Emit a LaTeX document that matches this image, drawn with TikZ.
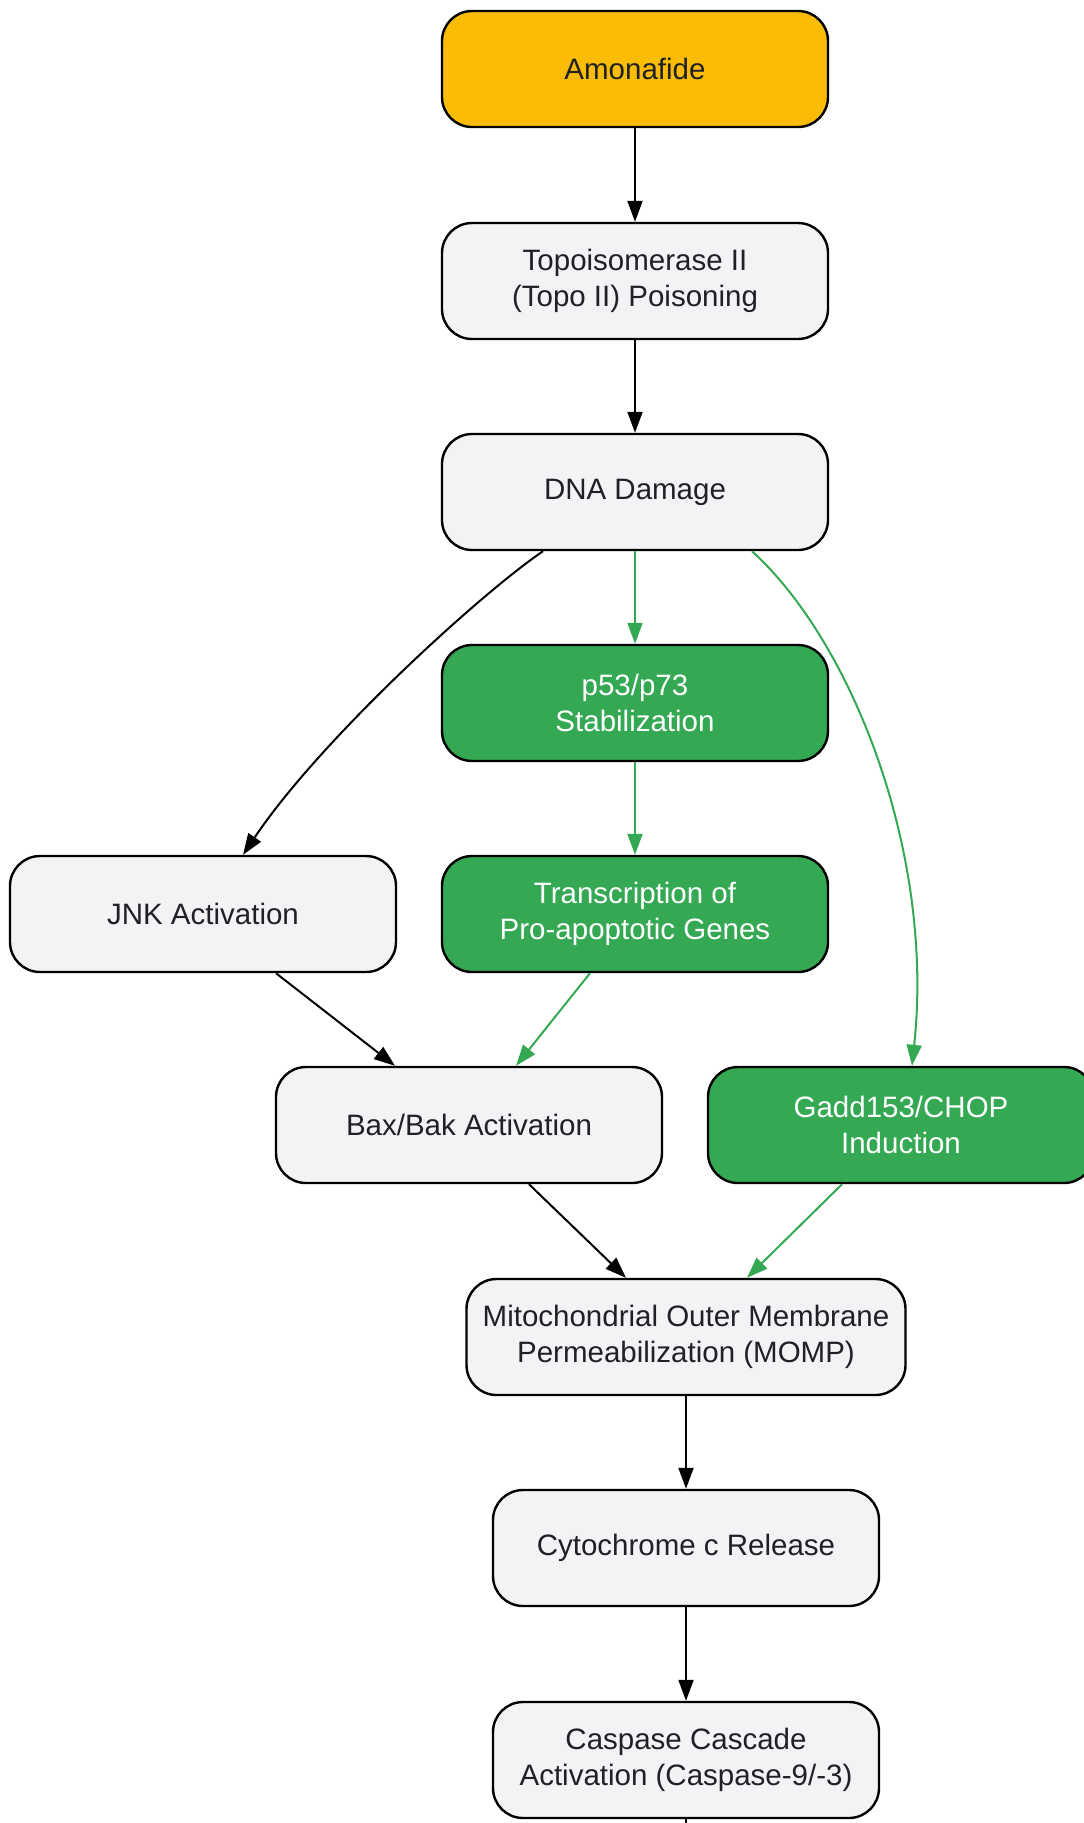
\documentclass[tikz,border=0pt]{standalone}
\usepackage{fontspec}
\setmainfont{Liberation Sans}
\usetikzlibrary{arrows.meta,calc}
\definecolor{gyellow}{HTML}{FBBC05}
\definecolor{ggreen}{HTML}{34A853}
\definecolor{ggray}{HTML}{F1F3F4}
\definecolor{gtext}{HTML}{202124}
\tikzset{
  box/.style={draw=black, line width=2.4pt, rounded corners=30pt, minimum width=386pt,
    minimum height=116pt, inner sep=0pt, align=center, text=gtext,
    font=\fontsize{29.5}{36}\selectfont},
  graybox/.style={box, fill=ggray},
  greenbox/.style={box, fill=ggreen, text=white},
  yellowbox/.style={box, fill=gyellow},
  conn/.style={line width=2pt, draw=black, -{Triangle[length=21pt,width=15pt]}},
  gconn/.style={conn, draw=ggreen},
}
\begin{document}
\begin{tikzpicture}[x=1pt,y=-1pt]
\useasboundingbox (0,0) rectangle (1084,1823);
\node[yellowbox] (amo) at (635,69) {Amonafide};
\node[graybox] (topo) at (635,281) {Topoisomerase II\\(Topo II) Poisoning};
\node[graybox] (dna) at (635,492) {DNA Damage};
\node[greenbox] (p53) at (635,703) {p53/p73\\Stabilization};
\node[greenbox] (tra) at (635,914) {Transcription of\\Pro-apoptotic Genes};
\node[graybox] (jnk) at (203,914) {JNK Activation};
\node[graybox] (bax) at (469,1125) {Bax/Bak Activation};
\node[greenbox] (gadd) at (901,1125) {Gadd153/CHOP\\Induction};
\node[graybox, minimum width=439pt] (momp) at (686,1337) {Mitochondrial Outer Membrane\\Permeabilization (MOMP)};
\node[graybox] (cyto) at (686,1548) {Cytochrome c Release};
\node[graybox] (casp) at (686,1760) {Caspase Cascade\\Activation (Caspase-9/-3)};
\coordinate (bottom) at (686,1830);

\draw[conn] (amo.south) -- (topo.north);
\draw[conn] (topo.south) -- (dna.north);
\draw[gconn] (dna.south) -- (p53.north);
\draw[gconn] (p53.south) -- (tra.north);
\draw[conn] ($(dna.south)+(-92,0)$) .. controls (480,594) and (320,740) .. ($(jnk.north)+(40,0)$);
\draw[gconn] ($(dna.south)+(117,0)$) .. controls (850,640) and (935,850) .. ($(gadd.north)+(11,0)$);
\draw[conn] ($(jnk.south)+(73,0)$) -- ($(bax.north)+(-74,0)$);
\draw[gconn] ($(tra.south)+(-45,0)$) -- ($(bax.north)+(47,0)$);
\draw[conn] ($(bax.south)+(60,0)$) -- ($(momp.north)+(-60,0)$);
\draw[gconn] ($(gadd.south)+(-59,0)$) -- ($(momp.north)+(61,0)$);
\draw[conn] (momp.south) -- (cyto.north);
\draw[conn] (cyto.south) -- (casp.north);
\draw[line width=2pt] (casp.south) -- (bottom);
\end{tikzpicture}
\end{document}
